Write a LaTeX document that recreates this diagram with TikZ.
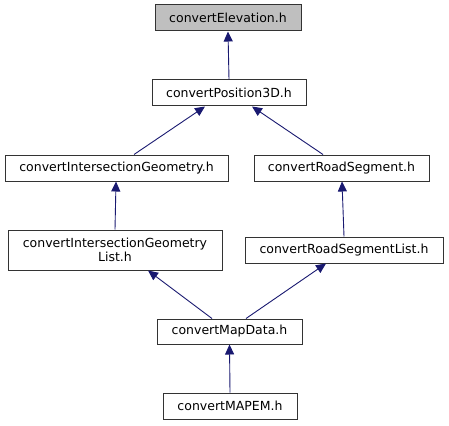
\documentclass[tikz,border=0pt]{standalone}
\usepackage{fontspec}
\setmainfont{DejaVu Sans}
\usetikzlibrary{arrows.meta}
\definecolor{edgec}{HTML}{191970}
\definecolor{grayfill}{HTML}{BFBFBF}
\definecolor{borderc}{HTML}{333333}
\begin{document}
\begin{tikzpicture}[x=1pt,y=-1pt,
  box/.style={draw=borderc,line width=1pt,fill=white,inner sep=0pt,align=center,
    font=\fontsize{12.5}{14.5}\selectfont},
  arr/.style={draw=edgec,line width=0.9pt,-{Triangle[length=10pt,width=9pt]}}]
\useasboundingbox (0,0) rectangle (449,425);
\node[box,fill=grayfill,minimum width=146pt,minimum height=26pt] (elev) at (228,18) {convertElevation.h};
\node[box,minimum width=154pt,minimum height=26pt] (p3d) at (229,93) {convertPosition3D.h};
\node[box,minimum width=223pt,minimum height=26pt] (ig) at (116.5,168) {convertIntersectionGeometry.h};
\node[box,minimum width=175pt,minimum height=26pt] (rs) at (341.5,168) {convertRoadSegment.h};
\node[box,minimum width=214pt,minimum height=40pt] (igl) at (115,250) {convertIntersectionGeometry\\List.h};
\node[box,minimum width=198pt,minimum height=26pt] (rsl) at (344,250) {convertRoadSegmentList.h};
\node[box,minimum width=145pt,minimum height=25pt] (md) at (229.5,331.5) {convertMapData.h};
\node[box,minimum width=134pt,minimum height=26pt] (mapem) at (230,406) {convertMAPEM.h};
\draw[arr] (p3d.north) -- (elev.south);
\draw[arr] ([xshift=17.5pt]ig.north) -- ([xshift=-24pt]p3d.south);
\draw[arr] ([xshift=-18.5pt]rs.north) -- ([xshift=23pt]p3d.south);
\draw[arr] (igl.north) -- ([xshift=-0.5pt]ig.south);
\draw[arr] (rsl.north) -- ([xshift=0.5pt]rs.south);
\draw[arr] ([xshift=-17.5pt]md.north) -- ([xshift=33pt]igl.south);
\draw[arr] ([xshift=16.5pt]md.north) -- ([xshift=-18pt]rsl.south);
\draw[arr] (mapem.north) -- (md.south);
\end{tikzpicture}
\end{document}
